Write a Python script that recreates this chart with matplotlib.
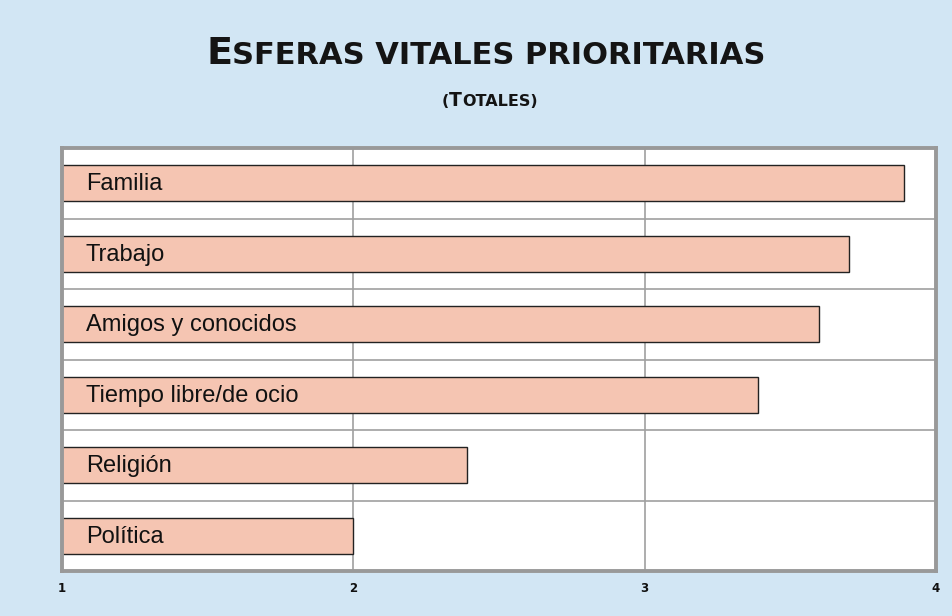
import matplotlib
matplotlib.use("Agg")
import matplotlib.pyplot as plt
import numpy as np

categories = ["Familia", "Trabajo", "Amigos y conocidos", "Tiempo libre/de ocio", "Religión", "Política"]
values = [3.89, 3.70, 3.60, 3.39, 2.39, 2.00]
xticks = [1, 2, 3, 4]

BG = "#d2e6f4"
BAR = "#f5c5b2"
GRID = "#a0a0a0"

fig = plt.figure(figsize=(9.52, 6.16), dpi=100, facecolor=BG)
ax = fig.add_axes([62/952, 45/616, (936-62)/952, (571-148)/616])
ax.set_facecolor("white")

y = np.arange(len(categories))
ax.barh(y, values, height=0.51, color=BAR, edgecolor="#222222", linewidth=1.0, zorder=3)
ax.set_xlim(1, 4)
ax.set_ylim(len(categories) - 0.5, -0.5)

ax.set_xticks(xticks)
ax.set_xticklabels([str(t) for t in xticks], fontsize=8.5, fontweight="bold", family="DejaVu Sans",
                   color="#111111")
ax.set_yticks(y + 0.5)
ax.set_yticklabels([])
ax.tick_params(axis="both", length=0, pad=8)
ax.grid(True, color=GRID, linewidth=1.2, zorder=0)
for s in ax.spines.values():
    s.set_color("#999999")
    s.set_linewidth(2.8)
    s.set_zorder(5)

for i, c in enumerate(categories):
    ax.annotate(c, xy=(1, i), xycoords="data", xytext=(24, -1), textcoords="offset pixels",
                va="center", ha="left", fontsize=17, family="Liberation Sans", zorder=4,
                color="#111111")

# small-caps title
def smallcaps(fig, parts, cx, cy, big, small):
    texts = []
    for txt, big_flag in parts:
        t = fig.text(0, cy, txt, fontsize=big if big_flag else small, family="DejaVu Sans",
                     fontweight="bold", va="baseline", ha="left", color="#141414")
        texts.append(t)
    fig.canvas.draw()
    r = fig.canvas.get_renderer()
    widths = [t.get_window_extent(r).width for t in texts]
    total = sum(widths)
    x = cx * fig.bbox.width - total / 2
    for t, w in zip(texts, widths):
        t.set_x(x / fig.bbox.width)
        x += w

smallcaps(fig, [("E", True), ("SFERAS VITALES PRIORITARIAS", False)], 486/952, 1 - 64.5/616, 27.5, 22)
smallcaps(fig, [("(", False), ("T", True), ("OTALES)", False)], 490/952, 1 - 105.5/616, 13.5, 11.5)

fig.savefig("out.png", dpi=100, facecolor=BG)
